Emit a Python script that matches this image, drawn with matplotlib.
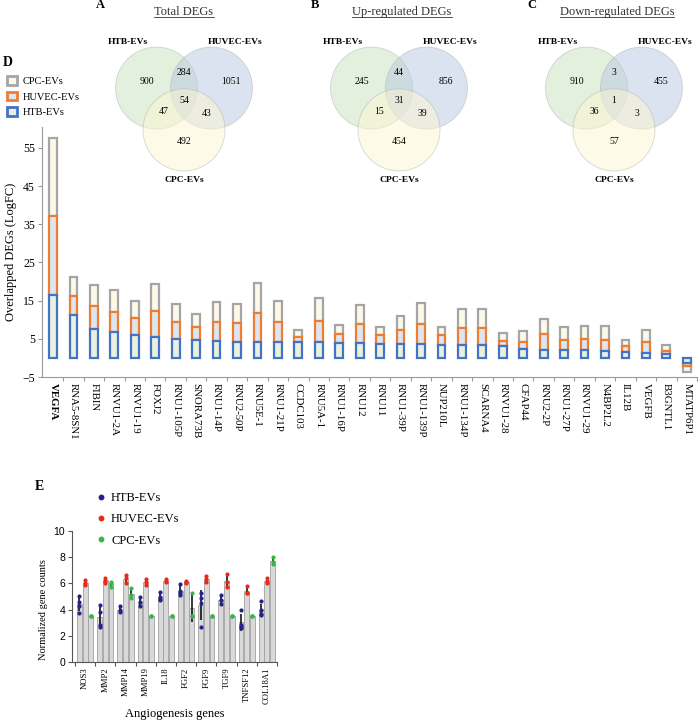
import numpy as np
import matplotlib
matplotlib.use('Agg')
import matplotlib.pyplot as plt
from matplotlib.patches import Circle, Patch
from matplotlib.lines import Line2D

plt.rcParams['font.family'] = ['Liberation Serif', 'DejaVu Serif']

W, H = 700, 724

# ---------------- Venn data ----------------
venn_letters = ['A', 'B', 'C']
venn_titles = ['Total DEGs', 'Up-regulated DEGs', 'Down-regulated DEGs']
venn_sets = ['HTB-EVs', 'HUVEC-EVs', 'CPC-EVs']
# regions: HTB only, HTB&HUVEC, HUVEC only, all three, HTB&CPC, HUVEC&CPC, CPC only
venn_total = [900, 284, 1051, 54, 47, 43, 492]
venn_up = [245, 44, 856, 31, 15, 39, 454]
venn_down = [910, 3, 455, 1, 36, 3, 57]

# ---------------- Panel D data ----------------
genes_d = ['VEGFA', 'RNA5-8SN1', 'FIBIN', 'RNVU1-2A', 'RNVU1-19', 'FOXJ2', 'RNU1-105P',
           'SNORA73B', 'RNU1-14P', 'RNU2-50P', 'RNU5E-1', 'RNU1-21P', 'CCDC103', 'RNU5A-1',
           'RNU1-16P', 'RNU12', 'RNU11', 'RNU1-39P', 'RNU1-139P', 'NUP210L', 'RNU1-134P',
           'SCARNA4', 'RNVU1-28', 'CFAP44', 'RNU2-2P', 'RNU1-27P', 'RNVU1-29', 'N4BP2L2',
           'IL12B', 'VEGFB', 'B3GNTL1', 'MTATP6P1']
htb_fc = [16.5, 11.2, 7.5, 6.9, 6.0, 5.4, 5.0, 4.7, 4.4, 4.3, 4.3, 4.3, 4.2, 4.1, 4.0,
          3.9, 3.7, 3.7, 3.6, 3.5, 3.5, 3.3, 3.0, 2.3, 2.2, 2.0, 2.0, 1.7, 1.6, 1.4, 1.0, -1.4]
huvec_fc = [20.6, 4.9, 6.0, 5.2, 4.5, 6.8, 4.4, 3.4, 5.1, 4.9, 7.5, 5.1, 1.3, 5.6, 2.3,
            4.9, 2.2, 3.6, 5.3, 2.4, 4.4, 4.6, 1.5, 2.0, 4.0, 2.7, 2.9, 3.1, 1.4, 2.7, 0.9, -0.8]
cpc_fc = [20.4, 5.0, 5.7, 5.6, 4.4, 7.1, 4.7, 3.5, 5.2, 4.9, 7.9, 5.5, 1.7, 5.9, 2.2,
          5.0, 2.2, 3.6, 5.4, 2.3, 4.8, 5.0, 2.0, 2.8, 4.1, 3.5, 3.4, 3.6, 1.7, 3.1, 1.5, -1.4]

# ---------------- Panel E data ----------------
genes_e = ['NOS3', 'MMP2', 'MMP14', 'MMP19', 'IL18', 'FGF2', 'FGF9', 'TGF9', 'TNFSF12', 'COL18A1']
htb_counts = [[5.05, 4.55, 4.3, 3.75], [4.35, 3.8, 2.8, 2.65], [4.25, 3.95, 3.8],
              [4.95, 4.55, 4.25], [5.35, 4.95, 4.8, 4.75], [5.95, 5.4, 5.15, 5.3],
              [5.25, 4.9, 4.5, 2.7], [5.1, 4.7, 4.45], [3.95, 2.85, 2.7, 2.6],
              [4.65, 4.0, 3.7, 3.6]]
huvec_counts = [[6.25, 6.05, 5.9], [6.45, 6.2, 6.05], [6.65, 6.4, 6.0],
                [6.35, 6.1, 5.9], [6.35, 6.15, 6.1], [6.2, 6.05, 6.1],
                [6.6, 6.35, 6.1], [6.7, 6.1, 5.75], [5.8, 5.3, 5.25],
                [6.45, 6.2, 6.0]]
cpc_counts = [[3.48, 3.48, 3.48], [6.1, 6.05, 5.7], [5.65, 5.1, 4.9],
              [3.48, 3.48, 3.48], [3.48, 3.48, 3.48], [5.3, 3.48, 3.48],
              [3.48, 3.48, 3.48], [3.48, 3.48, 3.48], [3.48, 3.48, 3.48],
              [8.0, 7.6, 7.45]]


def px_axes(fig, l, t, r, b):
    return fig.add_axes([l / W, 1 - b / H, (r - l) / W, (b - t) / H])


fig = plt.figure(figsize=(7.0, 7.24), dpi=100)

# ================= Panel D =================
axd = px_axes(fig, 42, 127, 697, 377)
x = np.arange(len(genes_d))
htb = np.array(htb_fc)
huv = np.array(huvec_fc)
cpc = np.array(cpc_fc)
bw = 0.38
lw = 1.6
axd.bar(x, cpc, bottom=htb + huv, width=bw, facecolor='#fdf9e8', edgecolor='#a5a5a5', linewidth=lw, zorder=2)
axd.bar(x, huv, bottom=htb, width=bw, facecolor='#dde5f1', edgecolor='#ed7d31', linewidth=lw, zorder=3)
axd.bar(x, htb, width=bw, facecolor='#e8f1e0', edgecolor='#4472c4', linewidth=lw, zorder=4)
axd.set_xlim(-0.54, 31.4)
axd.set_ylim(-5, 60.5)
axd.set_yticks([-5, 5, 15, 25, 35, 45, 55])
axd.tick_params(axis='y', labelsize=8.5, length=3, color='#999999', width=0.8, pad=2)
axd.set_xticks(x)
labels = axd.set_xticklabels(genes_d, rotation=270, fontsize=7.8, va='top', ha='center')
labels[0].set_fontweight('bold')
axd.tick_params(axis='x', length=0, pad=4)
axd.set_xticks(np.arange(len(genes_d)) + 0.5, minor=True)
axd.tick_params(axis='x', which='minor', length=3, color='#999999', width=0.8)
for s in ['top', 'right']:
    axd.spines[s].set_visible(False)
for s in ['left', 'bottom']:
    axd.spines[s].set_color('#999999')
    axd.spines[s].set_linewidth(0.8)
axd.set_ylabel('Overlapped DEGs (LogFC)', fontsize=9, labelpad=4)
axd.patch.set_alpha(0)

leg_handles = [Patch(facecolor='#fdf9e8', edgecolor='#a5a5a5', linewidth=2, label='CPC-EVs'),
               Patch(facecolor='#dde5f1', edgecolor='#ed7d31', linewidth=2, label='HUVEC-EVs'),
               Patch(facecolor='#e8f1e0', edgecolor='#4472c4', linewidth=2, label='HTB-EVs')]
fig.legend(handles=leg_handles, loc='upper left', bbox_to_anchor=(3 / W, 1 - 72 / H),
           frameon=False, fontsize=7.5, handlelength=0.9, handleheight=0.9,
           handletextpad=0.6, labelspacing=0.55, borderaxespad=0)
fig.text(3 / W, 1 - 62 / H, 'D', fontsize=10, fontweight='bold', va='center')

# ================= Venns =================
venn_data = [venn_total, venn_up, venn_down]
venn_cx = [184, 399, 614]
venn_cy = 109
R = 41
lim = 2.4
circ_pos = [(-0.67, 0.51), (0.67, 0.51), (0.0, -0.51)]
circ_col = ['#c9e2bd', '#b9c8e2', '#fdf6d2']
num_pos = [(-0.9, 0.68), (0.0, 0.9), (1.15, 0.68), (0.0, 0.2), (-0.49, -0.07), (0.56, -0.1), (0.0, -0.8)]
lab_pos = [(-1.37, 1.63), (1.24, 1.63), (0.0, -1.73)]
title_x = [184, 402, 617]
letter_x = [100, 315, 532]
for k in range(3):
    half = lim * R
    axv = px_axes(fig, venn_cx[k] - half, venn_cy - half, venn_cx[k] + half, venn_cy + half)
    axv.set_xlim(-lim, lim)
    axv.set_ylim(-lim, lim)
    axv.axis('off')
    for (cx, cy), c in zip(circ_pos, circ_col):
        axv.add_patch(Circle((cx, cy), 1.0, facecolor=c, alpha=0.5, edgecolor='#b0b0b0', linewidth=0.6))
    for (tx, ty), v in zip(num_pos, venn_data[k]):
        axv.text(tx, ty, str(v), ha='center', va='center', fontsize=7)
    for (tx, ty), s in zip(lab_pos, venn_sets):
        axv.text(tx, ty, s, ha='center', va='center', fontsize=6.8, fontweight='bold')
    fig.text(title_x[k] / W, 1 - 12 / H, venn_titles[k], ha='center', va='center',
             fontsize=9, color='#333333')
    fig.text(letter_x[k] / W, 1 - 5 / H, venn_letters[k], ha='center', va='center',
             fontsize=9, fontweight='bold')

fig.canvas.draw()
renderer = fig.canvas.get_renderer()
for t in list(fig.texts):
    if t.get_text() in venn_titles:
        bb = t.get_window_extent(renderer).transformed(fig.transFigure.inverted())
        fig.add_artist(Line2D([bb.x0, bb.x1], [bb.y0 + 0.001, bb.y0 + 0.001],
                              transform=fig.transFigure, color='#333333', linewidth=0.6))

# ================= Panel E =================
axe = px_axes(fig, 72, 531, 277, 662)
xe = np.arange(len(genes_e))
offs = [-0.28, 0.0, 0.28]
cols = ['#25238a', '#e8291c', '#3bb54a']
names = ['HTB-EVs', 'HUVEC-EVs', 'CPC-EVs']
groups = [htb_counts, huvec_counts, cpc_counts]
for g, (data, off, col) in enumerate(zip(groups, offs, cols)):
    means = np.array([np.mean(d) for d in data])
    sds = np.array([np.std(d, ddof=1) for d in data])
    axe.bar(xe + off, means, width=0.24, facecolor='#d9d9d9', edgecolor='#a0a0a0', linewidth=0.6, zorder=2)
    axe.errorbar(xe + off, means, yerr=sds, fmt='none', ecolor='black', elinewidth=1.1, capsize=0, zorder=3)
    for i, d in enumerate(data):
        axe.scatter(np.full(len(d), xe[i] + off), d, s=9, color=col, zorder=4, linewidths=0)
axe.set_xlim(-0.65, 9.5)
axe.set_ylim(0, 10)
axe.set_yticks([0, 2, 4, 6, 8, 10])
axe.set_yticklabels(['0', '2', '4', '6', '8', '10'], family='Liberation Sans', fontsize=7.5)
axe.tick_params(axis='y', length=3, color='#555555', width=0.8, pad=2)
axe.set_xticks(xe)
axe.set_xticklabels(genes_e, rotation=90, fontsize=6.2)
axe.tick_params(axis='x', length=0, pad=4)
axe.set_xticks(np.arange(len(genes_e) + 1) - 0.5, minor=True)
axe.tick_params(axis='x', which='minor', length=3, color='#555555', width=0.8)
for s in ['top', 'right']:
    axe.spines[s].set_visible(False)
for s in ['left', 'bottom']:
    axe.spines[s].set_color('#555555')
    axe.spines[s].set_linewidth(0.8)
axe.set_ylabel('Normalized gene counts', fontsize=7.5)
axe.yaxis.set_label_coords(-0.115, 0.4)
axe.set_xlabel('Angiogenesis genes', fontsize=9, va='center')
axe.xaxis.set_label_coords(0.5, -0.40)
e_handles = [Line2D([], [], marker='o', linestyle='none', markersize=3.2, color=c, label=n)
             for c, n in zip(cols, names)]
fig.legend(handles=e_handles, loc='upper left', bbox_to_anchor=(91 / W, 1 - 487 / H),
           frameon=False, prop={'size': 9}, handlelength=0.8,
           handletextpad=0.4, labelspacing=0.75, borderaxespad=0)
fig.text(35 / W, 1 - 487 / H, 'E', fontsize=10, fontweight='bold', va='center')

fig.savefig('out.png', dpi=100)
